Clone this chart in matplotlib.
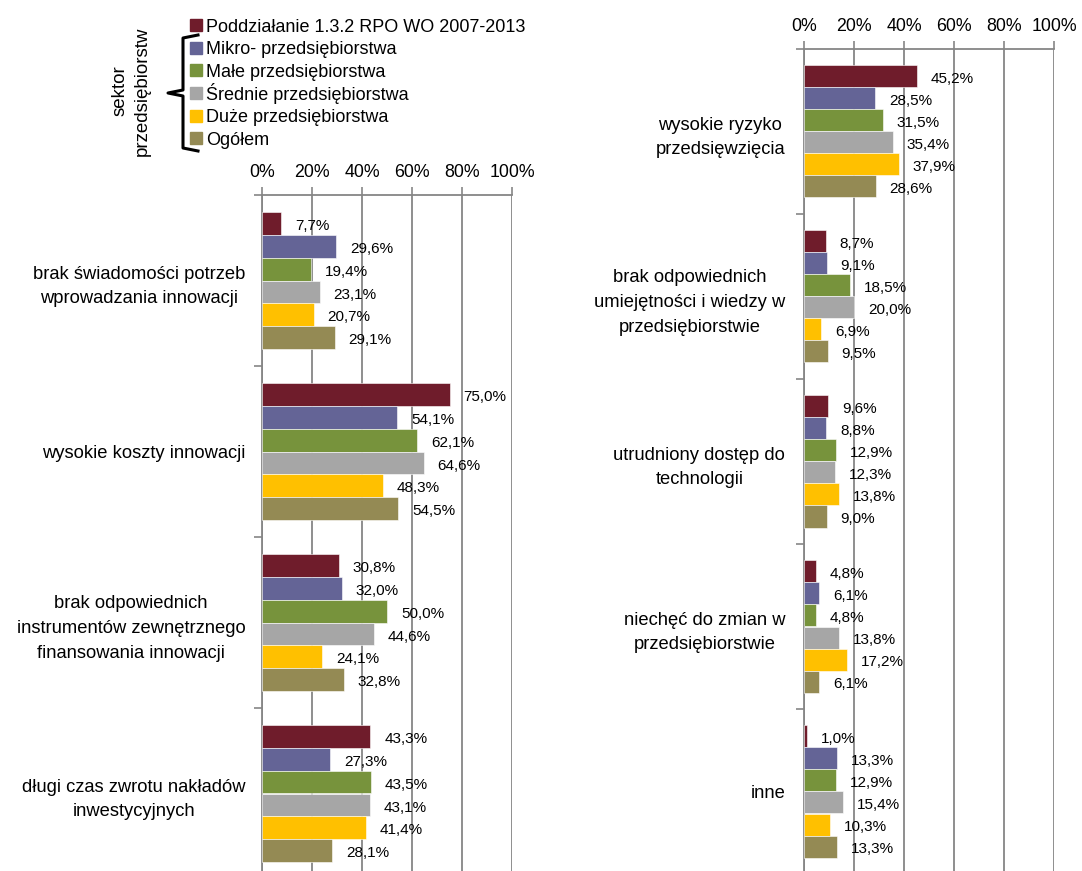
import matplotlib
matplotlib.use("Agg")
import matplotlib.pyplot as plt
import numpy as np
from matplotlib.lines import Line2D

plt.rcParams['font.family'] = ['Liberation Sans', 'DejaVu Sans']

series = ["Poddziałanie 1.3.2 RPO WO 2007-2013", "Mikro- przedsiębiorstwa",
          "Małe przedsiębiorstwa", "Średnie przedsiębiorstwa",
          "Duże przedsiębiorstwa", "Ogółem"]
colors = ["#6F1C2B", "#646496", "#77933C", "#A6A6A6", "#FFC000", "#948A54"]

left_cats = ["brak świadomości potrzeb\nwprowadzania innowacji",
             "wysokie koszty innowacji",
             "brak odpowiednich\ninstrumentów zewnętrznego\nfinansowania innowacji",
             "długi czas zwrotu nakładów\ninwestycyjnych"]
left_vals = [[7.7, 29.6, 19.4, 23.1, 20.7, 29.1],
             [75.0, 54.1, 62.1, 64.6, 48.3, 54.5],
             [30.8, 32.0, 50.0, 44.6, 24.1, 32.8],
             [43.3, 27.3, 43.5, 43.1, 41.4, 28.1]]

right_cats = ["wysokie ryzyko\nprzedsięwzięcia",
              "brak odpowiednich\numiejętności i wiedzy w\nprzedsiębiorstwie",
              "utrudniony dostęp do\ntechnologii",
              "niechęć do zmian w\nprzedsiębiorstwie",
              "inne"]
right_vals = [[45.2, 28.5, 31.5, 35.4, 37.9, 28.6],
              [8.7, 9.1, 18.5, 20.0, 6.9, 9.5],
              [9.6, 8.8, 12.9, 12.3, 13.8, 9.0],
              [4.8, 6.1, 4.8, 13.8, 17.2, 6.1],
              [1.0, 13.3, 12.9, 15.4, 10.3, 13.3]]

xticks = [0, 20, 40, 60, 80, 100]
xticklabels = ["0%", "20%", "40%", "60%", "80%", "100%"]

W, H = 1082, 871
fig = plt.figure(figsize=(W / 100, H / 100), dpi=100)
grey = "#868686"


def panel(rect, cats, vals, pad):
    ax = fig.add_axes(rect)
    n = len(cats)
    h = 0.8 / 6
    for j in range(6):
        y = np.arange(n) + (j - 2.5) * h
        v = [row[j] for row in vals]
        ax.barh(y, v, height=h, color=colors[j], edgecolor="white", linewidth=0.4, zorder=3)
        for yy, vv in zip(y, v):
            ax.annotate(f"{vv:.1f}%".replace(".", ","), (vv, yy), xytext=(10, -2),
                        textcoords="offset points", va="center", ha="left", fontsize=11, zorder=4)
    ax.set_xlim(0, 100)
    ax.set_ylim(n - 0.5, -0.5)
    ax.xaxis.tick_top()
    ax.set_xticks(xticks)
    ax.set_xticklabels(xticklabels, fontsize=12.8)
    ax.tick_params(axis="x", length=6, color=grey, width=1.2, pad=4)
    ax.grid(axis="x", color=grey, linewidth=1.3, zorder=0)
    ax.set_yticks(np.arange(n))
    ax.set_yticklabels(cats, fontsize=13.2, multialignment="center", linespacing=1.6)
    ax.tick_params(axis="y", which="major", length=0, pad=pad)
    ax.set_yticks(np.arange(n + 1) - 0.5, minor=True)
    ax.tick_params(axis="y", which="minor", length=6, color=grey, width=1.2)
    for s in ["right", "bottom"]:
        ax.spines[s].set_visible(False)
    for s in ["left", "top"]:
        ax.spines[s].set_color(grey)
        ax.spines[s].set_linewidth(1.3)
    return ax


panel([262 / W, 1 - 879 / H, 250 / W, 684 / H], left_cats, left_vals, 12)
panel([804 / W, 1 - 874 / H, 250 / W, 825 / H], right_cats, right_vals, 13.5)

# legend, placed row by row on a common baseline grid
for i, (name, c) in enumerate(zip(series, colors)):
    yc = 25 + i * 22.7
    fig.add_artist(Line2D([196 / W], [1 - yc / H], marker="s", markersize=9, linestyle="none", color=c))
    fig.text(206 / W, 1 - (yc + 6.5) / H, name, fontsize=13, va="baseline", ha="left")

# bracket for enterprise sector
bx = [198 / W, 183 / W, 183 / W, 168 / W, 183 / W, 183 / W, 198 / W]
by = [1 - 35 / H, 1 - 38 / H, 1 - 90 / H, 1 - 93 / H, 1 - 96 / H, 1 - 148 / H, 1 - 151 / H]
fig.add_artist(Line2D(bx, by, color="black", linewidth=2.2, solid_joinstyle="round"))
fig.text(131 / W, 1 - 91 / H, "sektor\nprzedsiębiorstw", rotation=90, ha="center", va="center",
         fontsize=13.5, linespacing=1.45)

fig.savefig("out.png", dpi=100)
